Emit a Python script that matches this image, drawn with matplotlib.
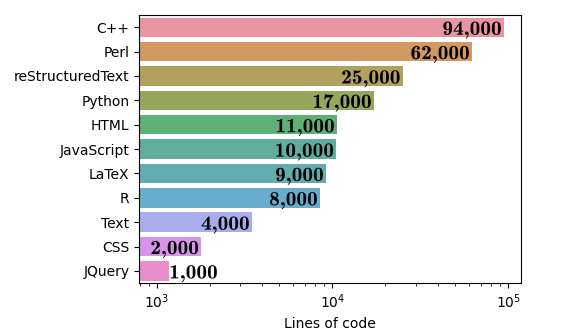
import numpy as np
import matplotlib
matplotlib.use('Agg')
import matplotlib.pyplot as plt
import matplotlib.transforms as mtransforms
from matplotlib.textpath import TextPath
from matplotlib.patches import PathPatch
from matplotlib.font_manager import FontProperties
import seaborn as sns

# Lines of code per language (bar lengths)
languages = ['C++', 'Perl', 'reStructuredText', 'Python', 'HTML', 'JavaScript',
             'LaTeX', 'R', 'Text', 'CSS', 'JQuery']
lines = [94500, 62200, 25100, 17200, 10600, 10500, 9180, 8490, 3480, 1790, 1170]
# Rounded numbers printed on the bars
shown = [94000, 62000, 25000, 17000, 11000, 10000, 9000, 8000, 4000, 2000, 1000]

colors = [sns.desaturate(c, 0.75) for c in sns.color_palette('husl', len(languages))]

fig = plt.figure(figsize=(5.8, 3.35), dpi=100)
ax = fig.add_axes([0.24, 0.155, 0.659, 0.80])

y = np.arange(len(languages))
ax.barh(y, lines, height=0.8, left=1, color=colors, alpha=0.85)
ax.set_xscale('log')
ax.set_xlim(796, 1.19e5)
ax.set_ylim(len(languages) - 0.5, -0.5)
ax.set_yticks(y)
ax.set_yticklabels(languages)
ax.set_xlabel('Lines of code')

# Bold extended look: cmb10 glyphs stretched a little sideways
fp = FontProperties(family='cmb10', size=14.5)
px = fig.dpi / 72.0
stretch = 1.06


def put_label(text, pos, inside):
    tp = TextPath((0, 0), text, prop=fp)
    digits = TextPath((0, 0), '0', prop=fp).get_extents()
    bb = tp.get_extents()
    if inside:
        x0 = pos[0] - 3 - bb.x1 * stretch * px
    else:
        x0 = pos[0] + 2 - bb.x0 * stretch * px
    yc = (digits.y0 + digits.y1) / 2
    tr = (mtransforms.Affine2D().translate(0, -yc).scale(stretch * px, px)
          .translate(x0, pos[1] - 1))
    ax.add_patch(PathPatch(tp, transform=tr, facecolor='black', edgecolor='none',
                           clip_on=False))


# Value labels: inside the bar end, outside when the bar is too short
for i, (v, s) in enumerate(zip(lines, shown)):
    pos = ax.transData.transform((v, i))
    put_label(f'{s:,}', pos, inside=v >= 1500)

fig.savefig('out.png', dpi=100)
